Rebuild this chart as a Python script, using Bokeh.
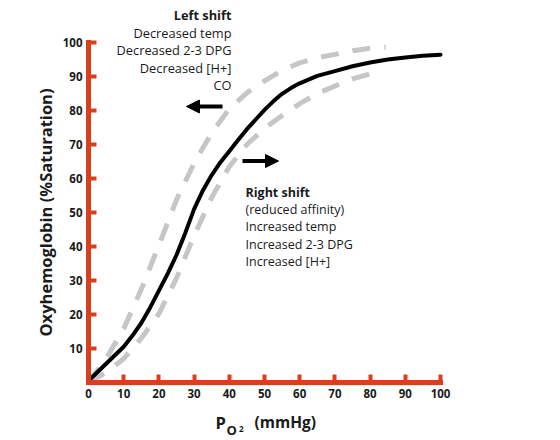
from bokeh.plotting import figure
from bokeh.models import Range1d, FixedTicker, Label, Arrow, NormalHead, LinearAxis
from bokeh.embed import file_html
from bokeh.resources import INLINE

# Oxygen partial pressure (mmHg) and haemoglobin saturation (%)
po2_normal = [0, 2.5, 5, 7.5, 10, 12.5, 15, 17.5, 20, 22.5, 25, 27.5, 30, 32.5, 35, 37.5, 40,
              42.5, 45, 50, 52.5, 55, 57.5, 60, 65, 70, 75, 80, 85, 90, 95, 100]
sat_normal = [0.5, 3, 5.5, 8, 10.5, 13.8, 17.5, 22, 27, 32, 37.5, 44, 51, 56.5, 61, 64.8, 68,
              71.3, 74.5, 80.2, 82.7, 84.9, 86.6, 88.0, 90.2, 91.6, 93.0, 94.1, 95.0, 95.6, 96.1,
              96.4]

po2_left = [0, 5, 10, 15, 20, 25, 30, 35, 40, 45, 50, 55, 60, 65, 70, 75, 80, 84.4]
sat_left = [0, 7, 15.8, 27.4, 40.4, 53.7, 64.5, 73.4, 80.5, 85.2, 88.7, 91.8, 94.0, 95.5, 96.5,
            97.6, 98.3, 98.6]

po2_right = [0, 5, 10, 15, 20, 25, 30, 35, 40, 45, 50, 55, 60, 65, 70, 75, 80, 83]
sat_right = [0, 3, 7, 13, 20.2, 30.7, 43.2, 54.4, 63.5, 70, 74.7, 78.5, 82, 85, 87.2, 89.3, 90.8,
             91.6]

x_ticks = [0, 10, 20, 30, 40, 50, 60, 70, 80, 90, 100]
y_ticks = [10, 20, 30, 40, 50, 60, 70, 80, 90, 100]

left_shift_lines = ["Left shift", "Decreased temp", "Decreased 2-3 DPG", "Decreased [H+]", "CO"]
right_shift_lines = ["Right shift", "(reduced affinity)", "Increased temp", "Increased 2-3 DPG",
                     "Increased [H+]"]

RED = "#d8401d"
GREY = "#c6c6c6"
INK = "#1a1a1a"
FONT = "Open Sans"

W, H = 560, 440
X0_PX, Y0_PX = 88, 382   # where the origin sits on the canvas
PX_X = 3.52              # pixels per mmHg
PX_Y = 3.4               # pixels per % saturation

# the frame covers the whole canvas; axes are pinned at the origin
p = figure(width=W, height=H,
           x_range=Range1d(-X0_PX / PX_X, (W - X0_PX) / PX_X),
           y_range=Range1d(-(H - Y0_PX) / PX_Y, Y0_PX / PX_Y),
           x_axis_location=None, y_axis_location=None,
           min_border=0, output_backend="svg", toolbar_location=None)
p.outline_line_color = None
p.background_fill_color = "white"
p.border_fill_color = "white"
p.grid.visible = False

xaxis = LinearAxis(fixed_location=0, ticker=FixedTicker(ticks=x_ticks))
yaxis = LinearAxis(fixed_location=0, ticker=FixedTicker(ticks=y_ticks),
                   axis_label="Oxyhemoglobin (%Saturation)")
for ax in (xaxis, yaxis):
    ax.bounds = (0, 100)
    ax.axis_line_color = RED
    ax.axis_line_width = 5
    ax.axis_line_cap = "square"
    ax.major_tick_line_color = RED
    ax.major_tick_line_width = 4
    ax.major_tick_in = 8
    ax.major_tick_out = 0
    ax.minor_tick_line_color = None
    ax.major_label_text_font = FONT
    ax.major_label_text_font_style = "bold"
    ax.major_label_text_font_size = "11.5px"
    ax.major_label_text_color = INK
    ax.major_label_standoff = 6
yaxis.axis_label_text_font = FONT
yaxis.axis_label_text_font_style = "bold"
yaxis.axis_label_text_font_size = "16.5px"
yaxis.axis_label_text_color = INK
yaxis.axis_label_standoff = 3
p.add_layout(xaxis, "below")
p.add_layout(yaxis, "left")

# shifted dissociation curves (dashed) and the normal curve (solid)
p.line(po2_left, sat_left, line_color=GREY, line_width=5, line_dash="18 14")
p.line(po2_right, sat_right, line_color=GREY, line_width=5, line_dash="18 14")
p.line(po2_normal, sat_normal, line_color="black", line_width=4, line_cap="round",
       line_join="round")


def px(x_px, y_px):
    return (x_px - X0_PX) / PX_X, (Y0_PX - y_px) / PX_Y


# shift arrows
for (x0, y0), (x1, y1) in ((px(222, 106), px(186, 106)), (px(242, 160.5), px(278, 160.5))):
    p.add_layout(Arrow(x_start=x0, y_start=y0, x_end=x1, y_end=y1, line_width=4,
                       line_color="black",
                       end=NormalHead(size=13, fill_color="black", line_color="black",
                                      line_width=1)))

# annotation blocks
for i, (txt, y_px) in enumerate(zip(left_shift_lines, [14, 32, 49.5, 67, 84.5])):
    x, y = px(231, y_px)
    p.add_layout(Label(x=x, y=y, text=txt, text_align="right", text_baseline="middle",
                       text_font=FONT, text_font_size="12.8px", text_color=INK,
                       text_font_style="bold" if i == 0 else "normal"))

for i, (txt, y_px) in enumerate(zip(right_shift_lines, [191.5, 209, 226, 243.5, 260.5])):
    x, y = px(245, y_px)
    p.add_layout(Label(x=x, y=y, text=txt, text_align="left", text_baseline="middle",
                       text_font=FONT, text_font_size="12.5px", text_color=INK,
                       text_font_style="bold" if i == 0 else "normal"))

# x-axis title: P with subscript O2, then units
for txt, x_px, y_px, size in (("P", 215, 422, "16.5px"), ("O", 226, 429, "13px"),
                              ("2", 238.5, 428.5, "8px"), ("(mmHg)", 254, 421, "15.5px")):
    x, y = px(x_px, y_px)
    p.add_layout(Label(x=x, y=y, text=txt, text_align="left", text_baseline="alphabetic",
                       text_font=FONT, text_font_style="bold", text_font_size=size,
                       text_color=INK))

open("out.html", "w").write(file_html(p, INLINE))
